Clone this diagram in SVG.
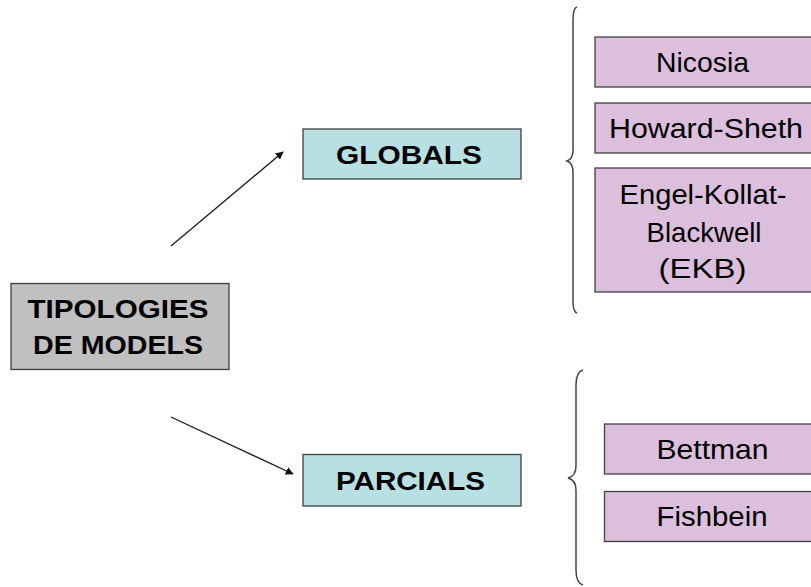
<svg xmlns="http://www.w3.org/2000/svg" width="811" height="587" viewBox="0 0 811 587">
  <defs>
    <marker id="arrowhead" viewBox="0 0 10 10" refX="9" refY="5" markerWidth="8" markerHeight="8" markerUnits="userSpaceOnUse" orient="auto">
      <path d="M0,0 L10,5 L0,10 z" fill="#111"/>
    </marker>
    <style>
      .box { stroke: #404040; stroke-width: 1.3; }
      .root { fill: #c0c0c0; }
      .group { fill: #b8e0e3; }
      .model { fill: #dcbedd; }
      .bold { font-family: "Liberation Sans", Arial, sans-serif; font-weight: bold; font-size: 26.5px; fill: #000; text-anchor: middle; }
      .plain { font-family: "Liberation Sans", Arial, sans-serif; font-size: 27.5px; fill: #000; text-anchor: middle; }
      .edge { stroke: #1a1a1a; stroke-width: 1.3; fill: none; }
      .brace { stroke: #444; stroke-width: 1.5; fill: none; }
    </style>
  </defs>
  <rect width="811" height="587" fill="#ffffff"/>

  <!-- connectors and braces -->
  <g id="connectors">
    <line class="edge" x1="171" y1="246" x2="283" y2="152" marker-end="url(#arrowhead)"/>
    <line class="edge" x1="171" y1="417" x2="293" y2="474" marker-end="url(#arrowhead)"/>
    <path class="brace" d="M577,7 Q573,8 573,20 L573,150 Q573,159 567,161 Q573,163 573,172 L573,301 Q573,312 577,313"/>
    <path class="brace" d="M583,370 Q576,372 576,385 L576,466 Q576,476 568,478 Q576,480 576,490 L576,570 Q576,583 583,585"/>
  </g>

  <g id="tipologies">
    <rect class="box root" x="11" y="283.5" width="218" height="86"/>
    <text class="bold" x="118" y="317.5" textLength="181" lengthAdjust="spacingAndGlyphs">TIPOLOGIES</text>
    <text class="bold" x="118" y="354" textLength="170" lengthAdjust="spacingAndGlyphs">DE MODELS</text>
  </g>

  <g id="globals">
    <rect class="box group" x="303" y="129" width="218" height="50"/>
    <text class="bold" x="409" y="163.5" textLength="146" lengthAdjust="spacingAndGlyphs">GLOBALS</text>
  </g>

  <g id="parcials">
    <rect class="box group" x="303" y="454.5" width="218" height="51.5"/>
    <text class="bold" x="410.5" y="489.7" textLength="149" lengthAdjust="spacingAndGlyphs">PARCIALS</text>
  </g>

  <g id="nicosia">
    <rect class="box model" x="595" y="37" width="218" height="50"/>
    <text class="plain" x="702.5" y="71.7" textLength="93" lengthAdjust="spacingAndGlyphs">Nicosia</text>
  </g>

  <g id="howard-sheth">
    <rect class="box model" x="595" y="103" width="218" height="50"/>
    <text class="plain" x="706" y="137.7" textLength="194" lengthAdjust="spacingAndGlyphs">Howard-Sheth</text>
  </g>

  <g id="ekb">
    <rect class="box model" x="595" y="168" width="218" height="124"/>
    <text class="plain" x="703" y="204.3" textLength="167" lengthAdjust="spacingAndGlyphs">Engel-Kollat-</text>
    <text class="plain" x="704" y="241.5" textLength="115" lengthAdjust="spacingAndGlyphs">Blackwell</text>
    <text class="plain" x="702.5" y="278.3" textLength="88" lengthAdjust="spacingAndGlyphs">(EKB)</text>
  </g>

  <g id="bettman">
    <rect class="box model" x="604.5" y="424" width="218" height="50"/>
    <text class="plain" x="712.5" y="458.7" textLength="112" lengthAdjust="spacingAndGlyphs">Bettman</text>
  </g>

  <g id="fishbein">
    <rect class="box model" x="604.5" y="491.5" width="218" height="50"/>
    <text class="plain" x="712" y="526" textLength="111" lengthAdjust="spacingAndGlyphs">Fishbein</text>
  </g>
</svg>
